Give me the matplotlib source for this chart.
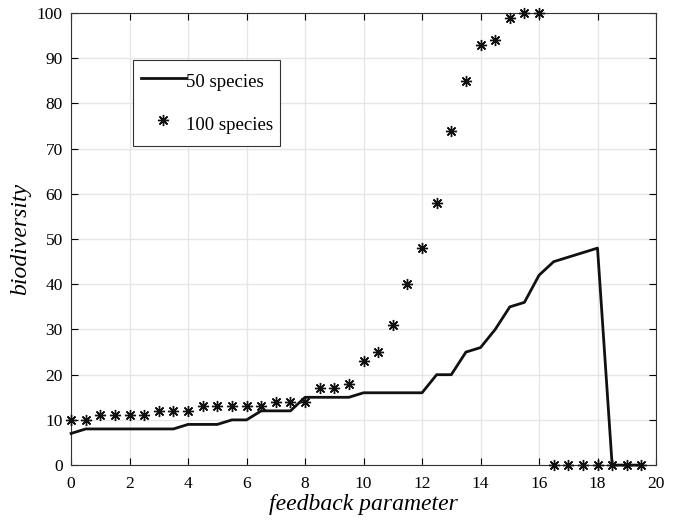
import numpy as np
import matplotlib.pyplot as plt

plt.rcParams['font.family'] = ['Liberation Serif', 'DejaVu Serif']

# 50 species (line)
x50 = np.arange(0, 20, 0.5)
y50 = [7, 8, 8, 8, 8, 8, 8, 8, 9, 9, 9, 10, 10, 12, 12, 12, 15, 15, 15, 15,
       16, 16, 16, 16, 16, 20, 20, 25, 26, 30, 35, 36, 42, 45, 46, 47, 48, 0, 0, 0]

# 100 species (stars)
x100 = np.arange(0, 20, 0.5)
y100 = [10, 10, 11, 11, 11, 11, 12, 12, 12, 13, 13, 13, 13, 13, 14, 14, 14, 17, 17, 18,
        23, 25, 31, 40, 48, 58, 74, 85, 93, 94, 99, 100, 100, 0, 0, 0, 0, 0, 0, 0]

fig = plt.figure(figsize=(6.77, 5.22), dpi=100)
ax = fig.add_axes([0.105, 0.109, 0.864, 0.866])

ax.plot(x50, y50, color='#111111', lw=2, label='50 species', clip_on=False, zorder=3)
ax.plot(x100, y100, ls='none', marker=(8, 2, 0), ms=8, mew=1.0, color='#111111',
        label='100 species', clip_on=False, zorder=4)

ax.set_xlim(0, 20)
ax.set_ylim(0, 100)
ax.set_xticks(np.arange(0, 21, 2))
ax.set_yticks(np.arange(0, 101, 10))
ax.grid(True, color='#e6e6e6', lw=1)
ax.set_axisbelow(True)
ax.tick_params(direction='in', top=True, right=True, labelsize=12.5, length=5, width=0.8)
ax.tick_params(axis='x', pad=8)
ax.tick_params(axis='y', pad=6)
for s in ax.spines.values():
    s.set_color('#333333')
    s.set_linewidth(0.8)

ax.set_xlabel('feedback parameter', fontsize=17, style='italic', labelpad=1)
ax.set_ylabel('biodiversity', fontsize=17, style='italic', labelpad=4)

leg = ax.legend(loc='upper left', bbox_to_anchor=(0.106, 0.896), borderaxespad=0,
                fontsize=13.5, fancybox=False, framealpha=1, edgecolor='#333333',
                handlelength=2.4, handletextpad=0.0, handleheight=1.9,
                labelspacing=0.8, borderpad=0.4, numpoints=1)
leg.get_frame().set_linewidth(0.8)

fig.savefig('out.png', dpi=100)
